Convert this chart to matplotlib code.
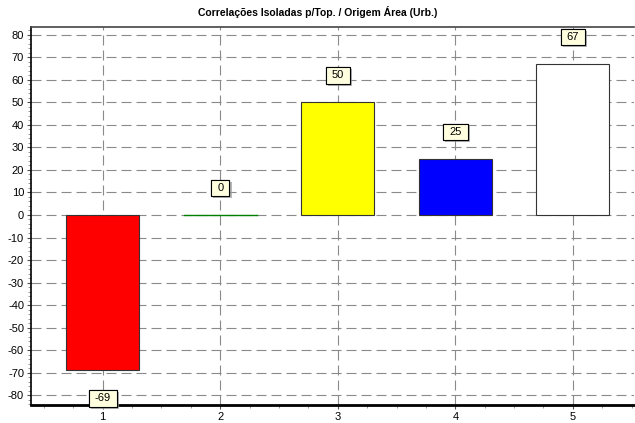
import matplotlib.pyplot as plt
import matplotlib.patheffects as pe
from matplotlib.path import Path
from matplotlib.ticker import MultipleLocator

plt.rcParams['font.family'] = ['Liberation Sans', 'DejaVu Sans']
plt.rcParams['axes.unicode_minus'] = False

# Datos
categorias = [1, 2, 3, 4, 5]
valores = [-69, 0, 50, 25, 67]
colores = ['#ff0000', '#008000', '#ffff00', '#0000ff', '#ffffff']
titulo = 'Correlações Isoladas p/Top. / Origem Área (Urb.)'


# Caja de etiqueta con margen horizontal mayor que el vertical
def caja(x0, y0, width, height, mutation_size):
    px = 0.55 * mutation_size
    py = 0.28 * mutation_size
    x0, y0 = x0 - px, y0 - py
    x1, y1 = x0 + width + 2 * px, y0 + height + 2 * py
    return Path([(x0, y0), (x1, y0), (x1, y1), (x0, y1), (x0, y0)],
                [Path.MOVETO, Path.LINETO, Path.LINETO, Path.LINETO, Path.CLOSEPOLY])


fig = plt.figure(figsize=(6.35, 4.23), dpi=100)
ax = fig.add_axes([31 / 635, 18 / 423, 603 / 635, 378 / 423])

# Barras
for x, v, c in zip(categorias, valores, colores):
    if v == 0:
        ax.plot([x - 0.31, x + 0.31], [0, 0], color=c, linewidth=1, zorder=3)
    else:
        ax.bar(x, v, width=0.62, color=c, edgecolor='#333333', linewidth=0.8, zorder=3)

# Etiquetas con caja
for x, v in zip(categorias, valores):
    y = v + 12 if v >= 0 else v - 12.5
    t = ax.text(x, y, f'{v}', ha='center', va='center', fontsize=8, zorder=5,
                bbox=dict(boxstyle=caja, facecolor='#ffffe0',
                          edgecolor='black', linewidth=0.8))
    t.get_bbox_patch().set_path_effects(
        [pe.withSimplePatchShadow(offset=(1.5, -1.5), shadow_rgbFace='#999999', alpha=0.7),
         pe.Normal()])

# Ejes y estilo
ax.set_xlim(0.39, 5.52)
ax.set_ylim(-84.4, 83.5)
ax.set_xticks(categorias)
ax.yaxis.set_major_locator(MultipleLocator(10))
ax.yaxis.set_minor_locator(MultipleLocator(2))
ax.xaxis.set_minor_locator(MultipleLocator(0.25))
ax.tick_params(labelsize=8, length=3, width=0.8, color='#555555', pad=2)
ax.tick_params(which='minor', length=2, width=0.6, color='#888888')
ax.grid(True, which='major', linestyle=(0, (9, 4.5)), color='#8a8a8a', linewidth=0.8, zorder=0)

ax.spines['left'].set_linewidth(1.2)
ax.spines['bottom'].set_linewidth(2)
ax.spines['top'].set_linewidth(1.2)
ax.spines['top'].set_color('#444444')
ax.spines['right'].set_visible(False)

fig.text(0.5, 1 - 12 / 423, titulo, ha='center', va='center', fontsize=7.5, fontweight='bold')

plt.savefig('out.png', dpi=100)
plt.close()
